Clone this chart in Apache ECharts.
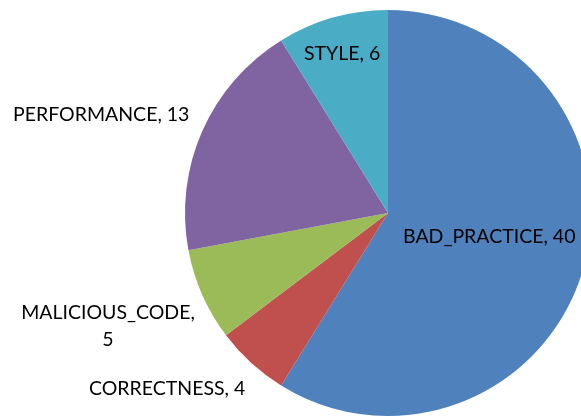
<!DOCTYPE html>
<html><head><meta charset="utf-8">
<script src="https://cdn.jsdelivr.net/npm/echarts@6/dist/echarts.min.js"></script>
<style>html,body{margin:0;padding:0;background:#fff}#c{width:581px;height:417px}</style>
</head><body><div id="c"></div>
<script>
const categories = ['BAD_PRACTICE', 'CORRECTNESS', 'MALICIOUS_CODE', 'PERFORMANCE', 'STYLE'];
const values = [40, 4, 5, 13, 6];
const labelTexts = ['BAD_PRACTICE, 40', 'CORRECTNESS, 4', 'MALICIOUS_CODE,\n5', 'PERFORMANCE, 13', 'STYLE, 6'];

const colors = ['#4F81BD', '#C0504D', '#9BBB59', '#8064A2', '#4BACC6'];
// label anchor layout (text placement only)
const labelPos = [
  {x: 403, y: 237, align: 'left'},
  {x: 89, y: 389, align: 'left'},
  {x: 108, y: 326, align: 'center'},
  {x: 13, y: 115, align: 'left'},
  {x: 304, y: 54, align: 'left'}
];

const chart = echarts.init(document.getElementById('c'), null, {renderer: 'canvas'});
chart.setOption({
  animation: false,
  series: [{
    type: 'pie',
    center: [388, 213],
    radius: 203,
    startAngle: 90,
    clockwise: true,
    avoidLabelOverlap: false,
    label: {
      show: true,
      position: 'outside',
      color: '#000',
      fontFamily: 'Lato',
      fontSize: 19.5,
      lineHeight: 27,
      formatter: p => labelTexts[p.dataIndex]
    },
    labelLine: {show: false},
    labelLayout: p => Object.assign({verticalAlign: 'middle'}, labelPos[p.dataIndex]),
    itemStyle: {borderWidth: 0},
    emphasis: {disabled: true},
    data: categories.map((c, i) => ({name: c, value: values[i], itemStyle: {color: colors[i]}}))
  }]
});
</script></body></html>
